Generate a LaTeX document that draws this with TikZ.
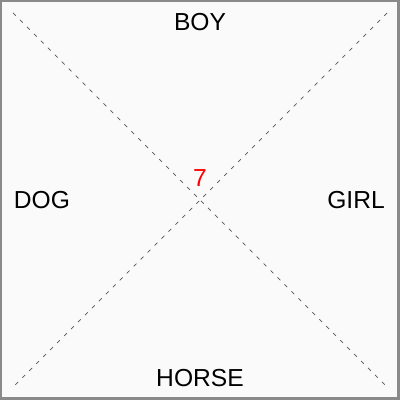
\documentclass[tikz,border=0pt]{standalone}
\usepackage{fontspec}
\setmainfont{Liberation Sans}
\usetikzlibrary{calc}
\definecolor{paper}{HTML}{FAFAFA}
\definecolor{frame}{HTML}{8A8A8A}
\definecolor{cross}{HTML}{555555}

\begin{document}
\begin{tikzpicture}[x=0.025cm,y=-0.025cm]
    \tikzset{
        word/.style={inner sep=0pt,font=\fontsize{17.5}{20}\selectfont},
        diag/.style={cross,line width=0.5pt,dash pattern=on 2.8pt off 4.2pt}
    }
    \useasboundingbox (0,0) rectangle (400,400);
    \fill[paper] (0,0) rectangle (400,400);
    \draw[frame,line width=1.42pt] (1,1) rectangle (399,399);
    \draw[frame,line width=0.71pt] (397.5,0) -- (397.5,400);
    \draw[frame,line width=0.71pt] (0,397.5) -- (400,397.5);

    \coordinate (TL) at (13,13);
    \coordinate (TR) at (387,13);
    \coordinate (BL) at (13,387);
    \coordinate (BR) at (387,387);

    \draw[diag] (TL) -- (BR);
    \draw[diag] (TR) -- (BL);

    \node[word] (boy) at (200,22) {BOY};
    \node[word] (girl) at (356,200) {GIRL};
    \node[word] (horse) at (200,378) {HORSE};
    \node[word] (dog) at (42,200) {DOG};
    \node[word,red] (seven) at (200,178) {7};
\end{tikzpicture}
\end{document}
